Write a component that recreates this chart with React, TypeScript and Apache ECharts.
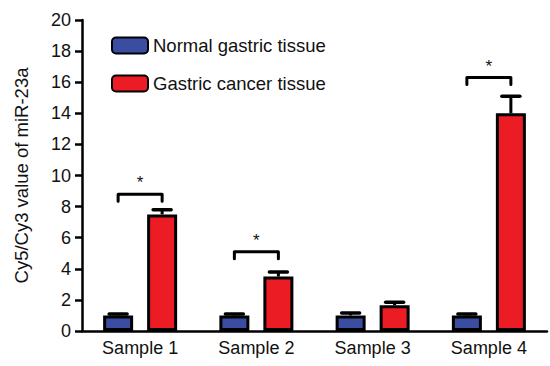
import React, { useEffect, useRef } from "react";
import * as echarts from "echarts";

const categories = ["Sample 1", "Sample 2", "Sample 3", "Sample 4"];
const normalValues = [1.0, 1.0, 1.0, 1.0];
const normalErrors = [0.1, 0.1, 0.15, 0.1];
const cancerValues = [7.5, 3.5, 1.65, 14.0];
const cancerErrors = [0.3, 0.3, 0.2, 1.1];
const bracketLevels = [8.8, 5.1, null, 16.3];
const yTicks = { min: 0, max: 20, interval: 2 };

const BAR_W = 30;
const BAR_GAP = 14;
const FONT = "'Liberation Sans', Arial, Helvetica, sans-serif";

export default function App() {
  const ref = useRef<HTMLDivElement>(null);
  useEffect(() => {
    if (!ref.current) return;
    document.body.style.margin = "0";
    const chart = echarts.init(ref.current, null, { renderer: "svg" });
    const half = (BAR_W + BAR_GAP) / 2;

    const errData: any[] = [];
    normalValues.forEach((v, i) => errData.push([i, v, normalErrors[i], -1]));
    cancerValues.forEach((v, i) => errData.push([i, v, cancerErrors[i], 1]));

    const bracketData: any[] = [];
    bracketLevels.forEach((y, i) => {
      if (y != null) bracketData.push([i, y]);
    });

    chart.setOption({
      animation: false,
      textStyle: { fontFamily: FONT },
      grid: { left: 82, right: 3, top: 20, bottom: 35, containLabel: false },
      legend: {
        orient: "vertical",
        left: 106,
        top: 31,
        itemWidth: 36,
        itemHeight: 16,
        itemGap: 19,
        textStyle: { fontSize: 18.5, color: "#111", fontFamily: FONT },
        data: ["Normal gastric tissue", "Gastric cancer tissue"],
      },
      xAxis: {
        type: "category",
        data: categories,
        axisLine: { lineStyle: { color: "#000", width: 2.5 } },
        axisTick: { alignWithLabel: true, length: 7, lineStyle: { color: "#000", width: 2.5 } },
        axisLabel: { color: "#111", fontSize: 18, margin: 8, fontFamily: FONT },
      },
      yAxis: {
        type: "value",
        min: yTicks.min,
        max: yTicks.max,
        interval: yTicks.interval,
        name: "Cy5/Cy3 value of miR-23a",
        nameLocation: "middle",
        nameGap: 51,
        nameTextStyle: { fontSize: 18.5, color: "#111", fontFamily: FONT },
        axisLine: { show: true, lineStyle: { color: "#000", width: 2.5 } },
        axisTick: { show: true, length: 7, lineStyle: { color: "#000", width: 2.5 } },
        axisLabel: { color: "#111", fontSize: 18, margin: 11, fontFamily: FONT },
        splitLine: { show: false },
      },
      series: [
        {
          name: "Normal gastric tissue",
          type: "bar",
          data: normalValues,
          barWidth: BAR_W,
          barGap: (BAR_GAP / BAR_W) * 100 + "%",
          itemStyle: { color: "#3B4DA0", borderColor: "#000", borderWidth: 3 },
          z: 3,
        },
        {
          name: "Gastric cancer tissue",
          type: "bar",
          data: cancerValues,
          barWidth: BAR_W,
          barGap: (BAR_GAP / BAR_W) * 100 + "%",
          itemStyle: { color: "#EC1C24", borderColor: "#000", borderWidth: 3 },
          z: 3,
        },
        {
          type: "custom",
          data: errData,
          z: 2,
          silent: true,
          renderItem: (params: any, api: any) => {
            const side = api.value(3);
            const top = api.coord([api.value(0), api.value(1) + api.value(2)]);
            const base = api.coord([api.value(0), api.value(1)]);
            const x = top[0] + side * half;
            return {
              type: "group",
              children: [
                {
                  type: "line",
                  shape: { x1: x, y1: base[1], x2: x, y2: top[1] },
                  style: { stroke: "#000", lineWidth: 3 },
                },
                {
                  type: "line",
                  shape: { x1: x - 9, y1: top[1], x2: x + 9, y2: top[1] },
                  style: { stroke: "#000", lineWidth: 3.5, lineCap: "round" },
                },
              ],
            };
          },
        },
        {
          type: "custom",
          data: bracketData,
          z: 4,
          silent: true,
          renderItem: (params: any, api: any) => {
            const p = api.coord([api.value(0), api.value(1)]);
            const x1 = p[0] - half;
            const x2 = p[0] + half;
            const y = p[1];
            return {
              type: "group",
              children: [
                {
                  type: "polyline",
                  shape: { points: [[x1, y + 7], [x1, y], [x2, y], [x2, y + 7]] },
                  style: { stroke: "#000", fill: null, lineWidth: 3, lineJoin: "round", lineCap: "round" },
                },
                {
                  type: "text",
                  x: p[0],
                  y: y - 3,
                  style: {
                    text: "*",
                    fontSize: 17,
                    fontFamily: FONT,
                    fill: "#111",
                    align: "center",
                    verticalAlign: "bottom",
                  },
                },
              ],
            };
          },
        },
      ],
    });
    return () => chart.dispose();
  }, []);
  return <div ref={ref} style={{ width: 550, height: 366 }} />;
}
